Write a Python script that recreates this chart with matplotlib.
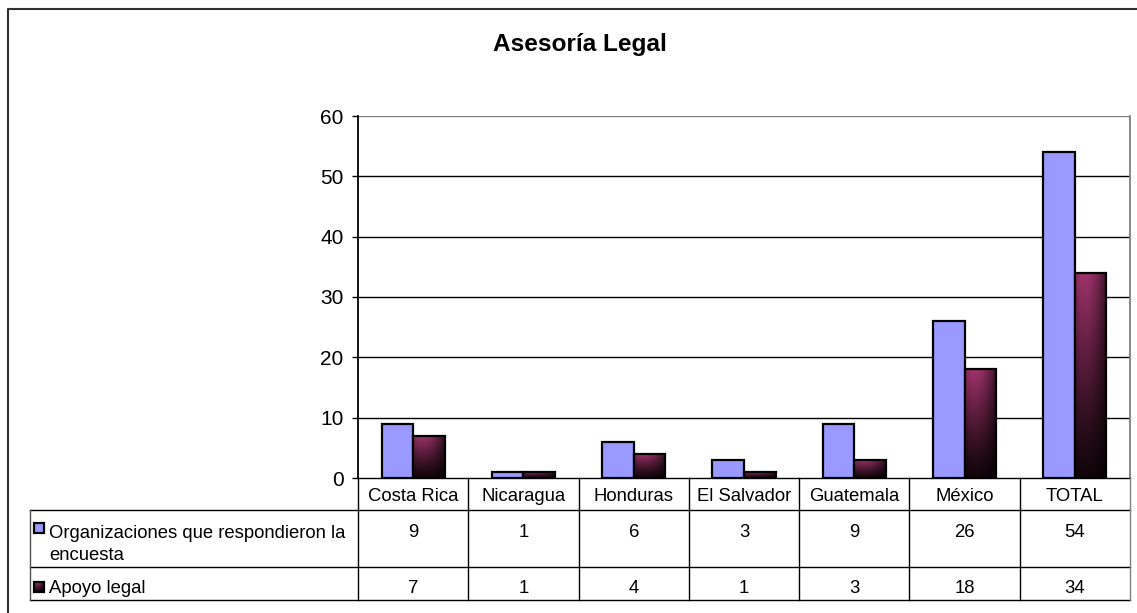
import numpy as np
import matplotlib
matplotlib.use("Agg")
import matplotlib.pyplot as plt
import matplotlib.patches as patches
from matplotlib.lines import Line2D
from matplotlib.transforms import blended_transform_factory

plt.rcParams['font.family'] = ['Liberation Sans', 'DejaVu Sans']

# datos
titulo = "Asesoría Legal"
paises = ["Costa Rica", "Nicaragua", "Honduras", "El Salvador", "Guatemala", "México", "TOTAL"]
organizaciones = [9, 1, 6, 3, 9, 26, 54]
apoyo_legal = [7, 1, 4, 1, 3, 18, 34]
serie1_label = ["Organizaciones que respondieron la", "encuesta"]
serie2_label = "Apoyo legal"
y_ticks = [0, 10, 20, 30, 40, 50, 60]

W, H = 1137, 613
AZUL = '#9999FF'
FS = 13.3


def gradiente_vino(nx=40, ny=80):
    # degradado tipo Excel: magenta arriba, casi negro abajo, borde derecho oscuro
    v = np.linspace(1, 0, ny)[:, None]          # 1 arriba
    h = np.linspace(0, 1, nx)[None, :]
    top = np.array([0.62, 0.20, 0.42])
    bot = np.array([0.07, 0.02, 0.04])
    fv = v ** 1.2
    fh = 1 - 0.65 * np.clip((h - 0.35) / 0.65, 0, 1) ** 1.6 - 0.15 * np.clip(1 - h / 0.2, 0, 1)
    img = bot + (top - bot) * (fv[..., None])
    img = img * fh[..., None]
    return np.clip(img, 0, 1)


fig = plt.figure(figsize=(W / 100, H / 100), dpi=100)

# area de trazado (en pixeles de la figura)
x0, x1, yb, yt = 358, 1130, 478, 116
ax = fig.add_axes([x0 / W, 1 - yb / H, (x1 - x0) / W, (yb - yt) / H])
ax.set_xlim(-0.5, len(paises) - 0.5)
ax.set_ylim(0, 60)
ax.set_yticks(y_ticks)
ax.set_xticks([])
ax.tick_params(axis='y', direction='out', length=4.3, width=1, pad=6, labelsize=15, colors='black')
for y in y_ticks[1:]:
    ax.axhline(y, color='black' if y < 60 else '#808080', lw=1.0, zorder=1)
ax.spines['left'].set_color('black')
ax.spines['left'].set_linewidth(1.3)
ax.spines['bottom'].set_color('black')
ax.spines['bottom'].set_linewidth(1.0)
ax.spines['top'].set_visible(False)
ax.spines['right'].set_color('#808080')
ax.spines['right'].set_linewidth(1.3)

bw = 1 / 3.5
xs = np.arange(len(paises))
ax.bar(xs - bw, organizaciones, width=bw, align='edge', color=AZUL,
       edgecolor='black', linewidth=1.6, zorder=3)
barras = ax.bar(xs, apoyo_legal, width=bw, align='edge', color='none',
                edgecolor='black', linewidth=1.6, zorder=4)
grad = gradiente_vino()
for b in barras:
    bx, by, bwid, bh = b.get_x(), b.get_y(), b.get_width(), b.get_height()
    im = ax.imshow(grad, extent=(bx, bx + bwid, by, by + bh), aspect='auto',
                   zorder=3.5, interpolation='bilinear')
    im.set_clip_path(b)
ax.set_xlim(-0.5, len(paises) - 0.5)
ax.set_ylim(0, 60)

# capa superpuesta en pixeles
ov = fig.add_axes([0, 0, 1, 1])
ov.set_xlim(0, W)
ov.set_ylim(H, 0)
ov.axis('off')
ov.patch.set_visible(False)

# marco exterior del grafico
ov.plot([8, 8, W + 5], [H + 5, 9, 9], color='#303030', lw=1.5, clip_on=False)

# titulo
ov.text(580, 51, titulo, ha='center', va='baseline', fontsize=17.6, fontweight='bold')

# tabla de datos
trans = blended_transform_factory(ax.transData, ov.transData)
r_cat, r1, r2 = 510, 567, 600
tl = 30
for yline in (r_cat, r1, r2):
    ov.plot([tl, x1], [yline, yline], color='black', lw=1.0)
ov.plot([tl, tl], [r_cat, r2], color='#505050', lw=1.0)
for i in range(len(paises) + 1):
    xb = i - 0.5
    ov.add_line(Line2D([xb, xb], [yb, r2], transform=trans,
                       color='black' if i < len(paises) else '#808080', lw=1.0))
for i, p in enumerate(paises):
    ov.text(i, 501, p, transform=trans, ha='center', va='baseline', fontsize=FS)
    ov.text(i, 537, str(organizaciones[i]), transform=trans, ha='center', va='baseline', fontsize=FS)
    ov.text(i, 593, str(apoyo_legal[i]), transform=trans, ha='center', va='baseline', fontsize=FS)

# leyenda dentro de la tabla
ov.add_patch(patches.Rectangle((34, 523), 10, 10, facecolor=AZUL, edgecolor='black', lw=1.6))
ov.text(49, 538, serie1_label[0], ha='left', va='baseline', fontsize=FS)
ov.text(49, 560, serie1_label[1], ha='left', va='baseline', fontsize=FS)
cuadro = patches.Rectangle((34, 582), 10, 10, facecolor='none', edgecolor='black', lw=1.6, zorder=3)
ov.add_patch(cuadro)
im = ov.imshow(grad, extent=(34, 44, 592, 582), aspect='auto', zorder=2)
im.set_clip_path(cuadro)
ov.set_xlim(0, W)
ov.set_ylim(H, 0)
ov.text(49, 593, serie2_label, ha='left', va='baseline', fontsize=FS)

fig.savefig("out.png", dpi=100)
